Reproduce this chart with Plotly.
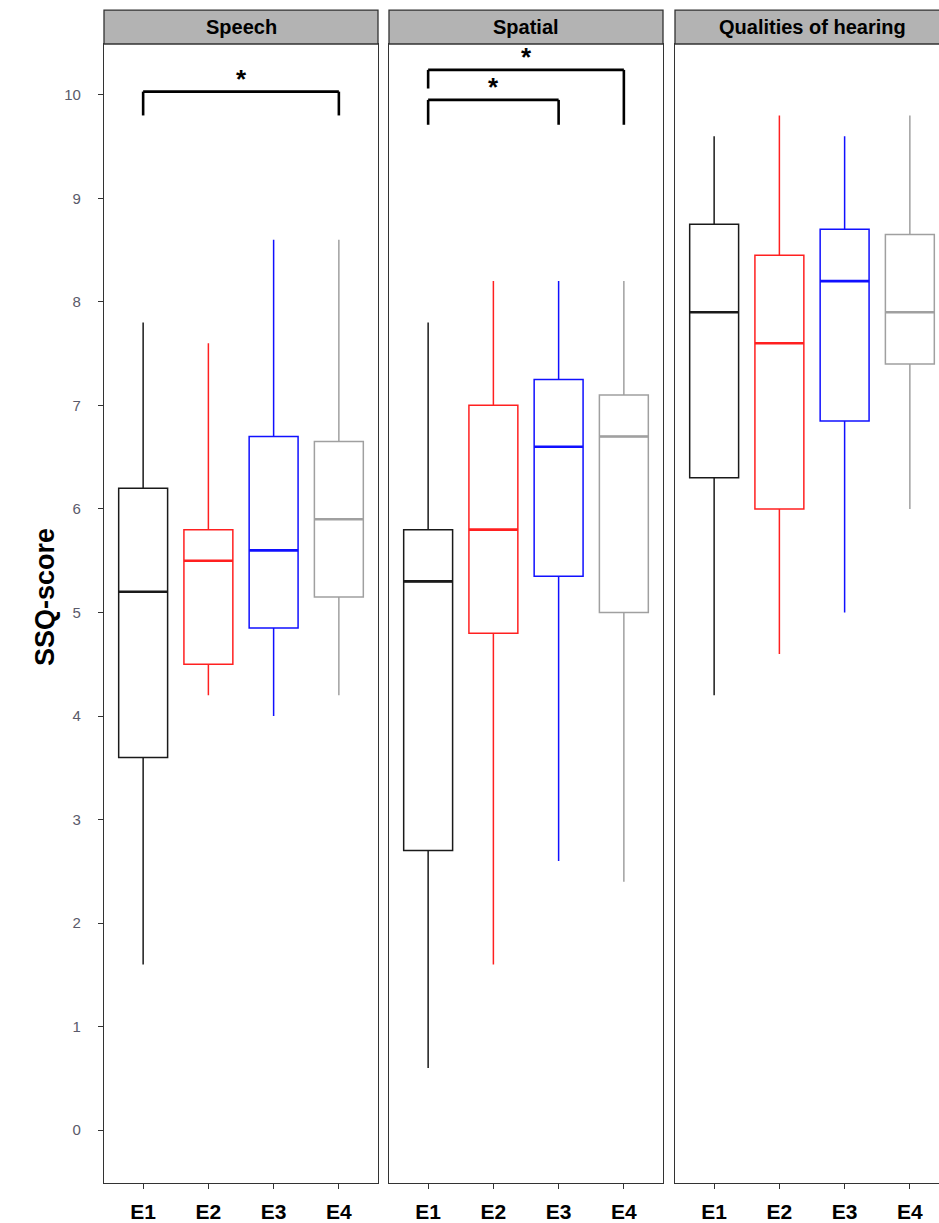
import plotly.graph_objects as go

panels = ["Speech", "Spatial", "Qualities of hearing"]
groups = ["E1", "E2", "E3", "E4"]
colors = ["#1a1a1a", "#FF2020", "#1010FF", "#A0A0A0"]

# per panel: lists over groups E1..E4
lower = {"Speech": [1.6, 4.2, 4.0, 4.2],
         "Spatial": [0.6, 1.6, 2.6, 2.4],
         "Qualities of hearing": [4.2, 4.6, 5.0, 6.0]}
q1 = {"Speech": [3.6, 4.5, 4.85, 5.15],
      "Spatial": [2.7, 4.8, 5.35, 5.0],
      "Qualities of hearing": [6.3, 6.0, 6.85, 7.4]}
median = {"Speech": [5.2, 5.5, 5.6, 5.9],
          "Spatial": [5.3, 5.8, 6.6, 6.7],
          "Qualities of hearing": [7.9, 7.6, 8.2, 7.9]}
q3 = {"Speech": [6.2, 5.8, 6.7, 6.65],
      "Spatial": [5.8, 7.0, 7.25, 7.1],
      "Qualities of hearing": [8.75, 8.45, 8.7, 8.65]}
upper = {"Speech": [7.8, 7.6, 8.6, 8.6],
         "Spatial": [7.8, 8.2, 8.2, 8.2],
         "Qualities of hearing": [9.6, 9.8, 9.6, 9.8]}

# significance brackets: (panel, group_a, group_b, bar height, left leg end, right leg end)
brackets = [("Speech", "E1", "E4", 10.03, 9.8, 9.8),
            ("Spatial", "E1", "E4", 10.24, 10.06, 9.71),
            ("Spatial", "E1", "E3", 9.95, 9.71, 9.71)]

y_ticks = [0, 1, 2, 3, 4, 5, 6, 7, 8, 9, 10]

W, H = 939, 1223
ml, mr, mt = 104, 0, 44
mb = H - 1185
pw = W - ml - mr
ph = H - mt - mb
px_left = [104, 389, 675]
px_right = [378, 663, 939]
unit_px = 274 / 4.2
BOXW = 0.75
FONT = "Liberation Sans"

fig = go.Figure()
axis_names = ["x", "x2", "x3"]
yaxis_names = ["y", "y2", "y3"]
shapes = []
annotations = []

for pi, panel in enumerate(panels):
    xa, ya = axis_names[pi], yaxis_names[pi]
    for gi, g in enumerate(groups):
        fig.add_trace(go.Box(
            x=[g], q1=[q1[panel][gi]], median=[median[panel][gi]], q3=[q3[panel][gi]],
            lowerfence=[lower[panel][gi]], upperfence=[upper[panel][gi]],
            width=BOXW, whiskerwidth=0, line=dict(color=colors[gi], width=1.5),
            fillcolor="rgba(0,0,0,0)", boxpoints=False, showlegend=False,
            xaxis=xa, yaxis=ya, hoverinfo="skip"))
        shapes.append(dict(type="line", xref=xa, yref=ya,
                           x0=gi - BOXW / 2, x1=gi + BOXW / 2,
                           y0=median[panel][gi], y1=median[panel][gi],
                           line=dict(color=colors[gi], width=2.6)))
    d0 = (px_left[pi] - ml) / pw
    d1 = (px_right[pi] - ml) / pw
    shapes.append(dict(type="rect", xref="paper", yref="paper",
                       x0=d0, x1=d1 + (0.01 if pi == 2 else 0), y0=1.0, y1=1 + 34 / ph,
                       fillcolor="#B3B3B3", line=dict(color="#333333", width=1.3), layer="above"))
    cx = (d0 + (px_left[pi] + 274 - ml) / pw) / 2
    annotations.append(dict(text="<b>%s</b>" % panel, xref="paper", yref="paper",
                            x=cx, y=1 + 17 / ph, showarrow=False,
                            font=dict(family=FONT, size=20, color="black"),
                            xanchor="center", yanchor="middle"))

for (panel, ga, gb, hb, la, lb) in brackets:
    pi = panels.index(panel)
    xa, ya = axis_names[pi], yaxis_names[pi]
    ia, ib = groups.index(ga), groups.index(gb)
    for (x0, x1, y0, y1) in [(ia, ib, hb, hb), (ia, ia, la, hb), (ib, ib, lb, hb)]:
        shapes.append(dict(type="line", xref=xa, yref=ya, x0=x0, x1=x1, y0=y0, y1=y1,
                           line=dict(color="black", width=2.6)))
    annotations.append(dict(text="<b>*</b>", xref=xa, yref=ya, x=(ia + ib) / 2, y=hb,
                            showarrow=False, yanchor="bottom", yshift=-4,
                            font=dict(family=FONT, size=26, color="black")))

annotations.append(dict(text="<b>SSQ-score</b>", xref="paper", yref="paper",
                        x=(45 - ml) / pw, y=(H - mb - 598) / ph, textangle=-90,
                        showarrow=False, xanchor="center", yanchor="middle",
                        font=dict(family=FONT, size=27, color="black")))

axis_common = dict(showline=True, mirror=True, linecolor="#333333", linewidth=1.3,
                   showgrid=False, zeroline=False, ticks="outside", ticklen=5,
                   tickcolor="#333333", tickwidth=1.2)

layout = dict(width=W, height=H, margin=dict(l=ml, r=mr, t=mt, b=mb),
              plot_bgcolor="white", paper_bgcolor="white",
              shapes=shapes, annotations=annotations, boxmode="overlay")
for pi in range(3):
    d0 = (px_left[pi] - ml) / pw
    d1 = (px_right[pi] - ml) / pw
    rng_hi = -0.6 + (px_right[pi] - px_left[pi]) / unit_px
    xkey = "xaxis" if pi == 0 else "xaxis%d" % (pi + 1)
    ykey = "yaxis" if pi == 0 else "yaxis%d" % (pi + 1)
    layout[xkey] = dict(axis_common, domain=[d0, d1], type="category",
                        categoryorder="array", categoryarray=groups,
                        range=[-0.6, rng_hi], anchor=yaxis_names[pi],
                        tickfont=dict(family=FONT, size=21, color="black"),
                        tickvals=groups, ticktext=["<b>%s</b>" % g for g in groups],
                        ticklabelstandoff=5)
    layout[ykey] = dict(axis_common, domain=[0, 1], range=[-0.51, 10.49],
                        anchor=axis_names[pi], tickvals=y_ticks,
                        showticklabels=(pi == 0), ticks="outside" if pi == 0 else "",
                        ticklabelstandoff=14, mirror=(pi < 2),
                        tickfont=dict(family=FONT, size=15, color="#5A5A6A"))
    if pi > 0:
        layout[ykey]["matches"] = "y"

fig.update_layout(**layout)
fig.write_html("out.html", config={"displayModeBar": False},
               post_script="document.body.style.margin='0';document.body.style.overflow='hidden';")
